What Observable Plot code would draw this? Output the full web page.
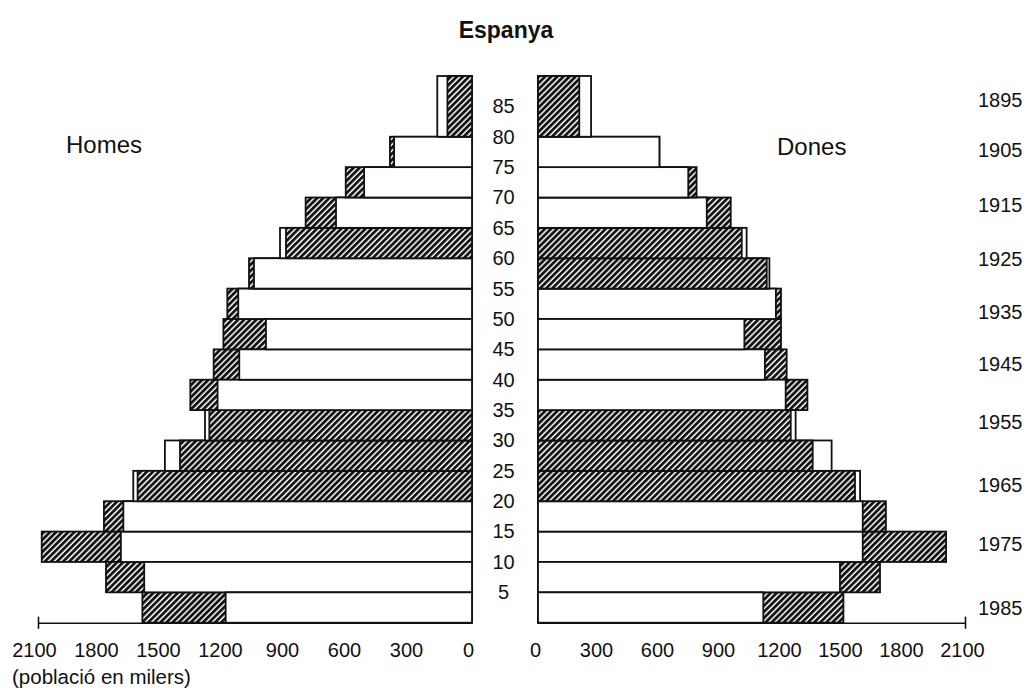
<!DOCTYPE html>
<html><head><meta charset="utf-8">
<script src="https://cdn.jsdelivr.net/npm/d3@7"></script>
<script src="https://cdn.jsdelivr.net/npm/@observablehq/plot@0.6"></script>
<style>
body{margin:0;background:#fff;font-family:"Liberation Sans",Arial,Helvetica,sans-serif;}
#wrap{position:relative;width:1026px;height:688px;overflow:hidden;background:#fff}
.lbl{position:absolute;color:#111;white-space:nowrap;line-height:1}
</style></head><body>
<svg width="0" height="0" style="position:absolute">
  <defs>
    <pattern id="hatch" patternUnits="userSpaceOnUse" width="4.3" height="4.3" patternTransform="rotate(45)">
      <rect width="4.3" height="4.3" fill="#111"/>
      <line x1="1" y1="0" x2="1" y2="4.3" stroke="#fff" stroke-width="1.5"/>
    </pattern>
  </defs>
</svg>
<div id="wrap">
  <div id="left" style="position:absolute;left:0;top:0"></div>
  <div id="right" style="position:absolute;left:520px;top:0"></div>
  <div class="lbl" style="left:0;width:1012px;text-align:center;top:19px;font-weight:bold;font-size:23px">Espanya</div>
  <div class="lbl" style="left:66px;top:133px;font-size:24px">Homes</div>
  <div class="lbl" style="left:777px;top:135px;font-size:24px">Dones</div>
  <div class="lbl" style="left:12px;top:667px;font-size:20.5px">(població en milers)</div>
</div>
<script>
// age groups (lower and upper bound, years)
const ageFrom = [0,5,10,15,20,25,30,35,40,45,50,55,60,65,70,75,80];
const ageTo   = [5,10,15,20,25,30,35,40,45,50,55,60,65,70,75,80,90];
// population in thousands
const menWhite     = [1192,1586,1699,1687,1639,1486,1292,1231,1126,997,1131,1055,929,658,522,377,168];
const menHatched   = [1595,1771,2082,1781,1618,1413,1271,1363,1250,1203,1184,1079,900,805,611,397,119];
const womenWhite   = [1108,1485,1597,1597,1584,1444,1267,1218,1116,1015,1170,1138,1026,830,739,597,261];
const womenHatched = [1502,1682,2007,1711,1559,1351,1243,1325,1223,1195,1195,1125,1002,948,780,597,203];
// tick labels
const xTicks = [0,300,600,900,1200,1500,1800,2100];
const ageTicks = [5,10,15,20,25,30,35,40,45,50,55,60,65,70,75,80,85];
// birth-cohort labels and the age at which each one sits
const cohortYears = [1895,1905,1915,1925,1935,1945,1955,1965,1975,1985];
const cohortAge   = [86,77.8,68.7,59.9,51.2,42.5,33,22.6,12.9,2.4];

function rows(white, hatched) {
  const out = [];
  ageFrom.forEach((a, i) => {
    out.push({a0: a, a1: ageTo[i], value: hatched[i], kind: "ratllat", ord: 0});
    out.push({a0: a, a1: ageTo[i], value: white[i], kind: "blanc", ord: 1});
  });
  // longer bar drawn first, shorter on top
  return out.sort((p, q) => (q.value - p.value) || (p.ord - q.ord));
}

const common = {
  height: 688,
  marginTop: 76,
  marginBottom: 65.3,
  y: {domain: [0, 90], axis: null},
  color: {domain: ["blanc", "ratllat"], range: ["#fff", "url(#hatch)"]},
  style: {fontFamily: "Liberation Sans, Arial, Helvetica, sans-serif", fontSize: "20px", color: "#111", background: "transparent", overflow: "visible"}
};
const fmt = d => String(d);

const left = Plot.plot({
  ...common,
  width: 520,
  marginLeft: 38,
  marginRight: 48,
  x: {domain: [2100, 0], axis: null},
  marks: [
    Plot.rectX(rows(menWhite, menHatched), {x2: "value", y1: "a0", y2: "a1", fill: "kind", stroke: "#111", strokeWidth: 1.8}),
    Plot.ruleY([0], {stroke: "#111", strokeWidth: 1.6}),
    Plot.ruleX([2100], {y1: -1, y2: 1, stroke: "#111", strokeWidth: 1.6}),
    Plot.axisX(xTicks, {tickSize: 0, tickPadding: 20, fontSize: 20, dx: -4, label: null, tickFormat: fmt}),
    Plot.axisY(ageTicks, {anchor: "right", tickSize: 0, tickPadding: 31, textAnchor: "middle", fontSize: 20, label: null})
  ]
});

const cohorts = cohortYears.map((year, i) => ({year, age: cohortAge[i]}));

const right = Plot.plot({
  ...common,
  width: 506,
  marginLeft: 18,
  marginRight: 61,
  x: {domain: [0, 2100], axis: null},
  marks: [
    Plot.rectX(rows(womenWhite, womenHatched), {x2: "value", y1: "a0", y2: "a1", fill: "kind", stroke: "#111", strokeWidth: 1.8}),
    Plot.ruleY([0], {stroke: "#111", strokeWidth: 1.6}),
    Plot.ruleX([2100], {y1: -1, y2: 1, stroke: "#111", strokeWidth: 1.6}),
    Plot.axisX(xTicks, {tickSize: 0, tickPadding: 20, fontSize: 20, dx: -3, label: null, tickFormat: fmt}),
    Plot.text(cohorts, {y: "age", text: d => String(d.year), frameAnchor: "right", textAnchor: "end", dx: 57, fontSize: 20, fill: "#111"})
  ]
});

document.getElementById("left").appendChild(left);
document.getElementById("right").appendChild(right);
</script>
</body></html>
